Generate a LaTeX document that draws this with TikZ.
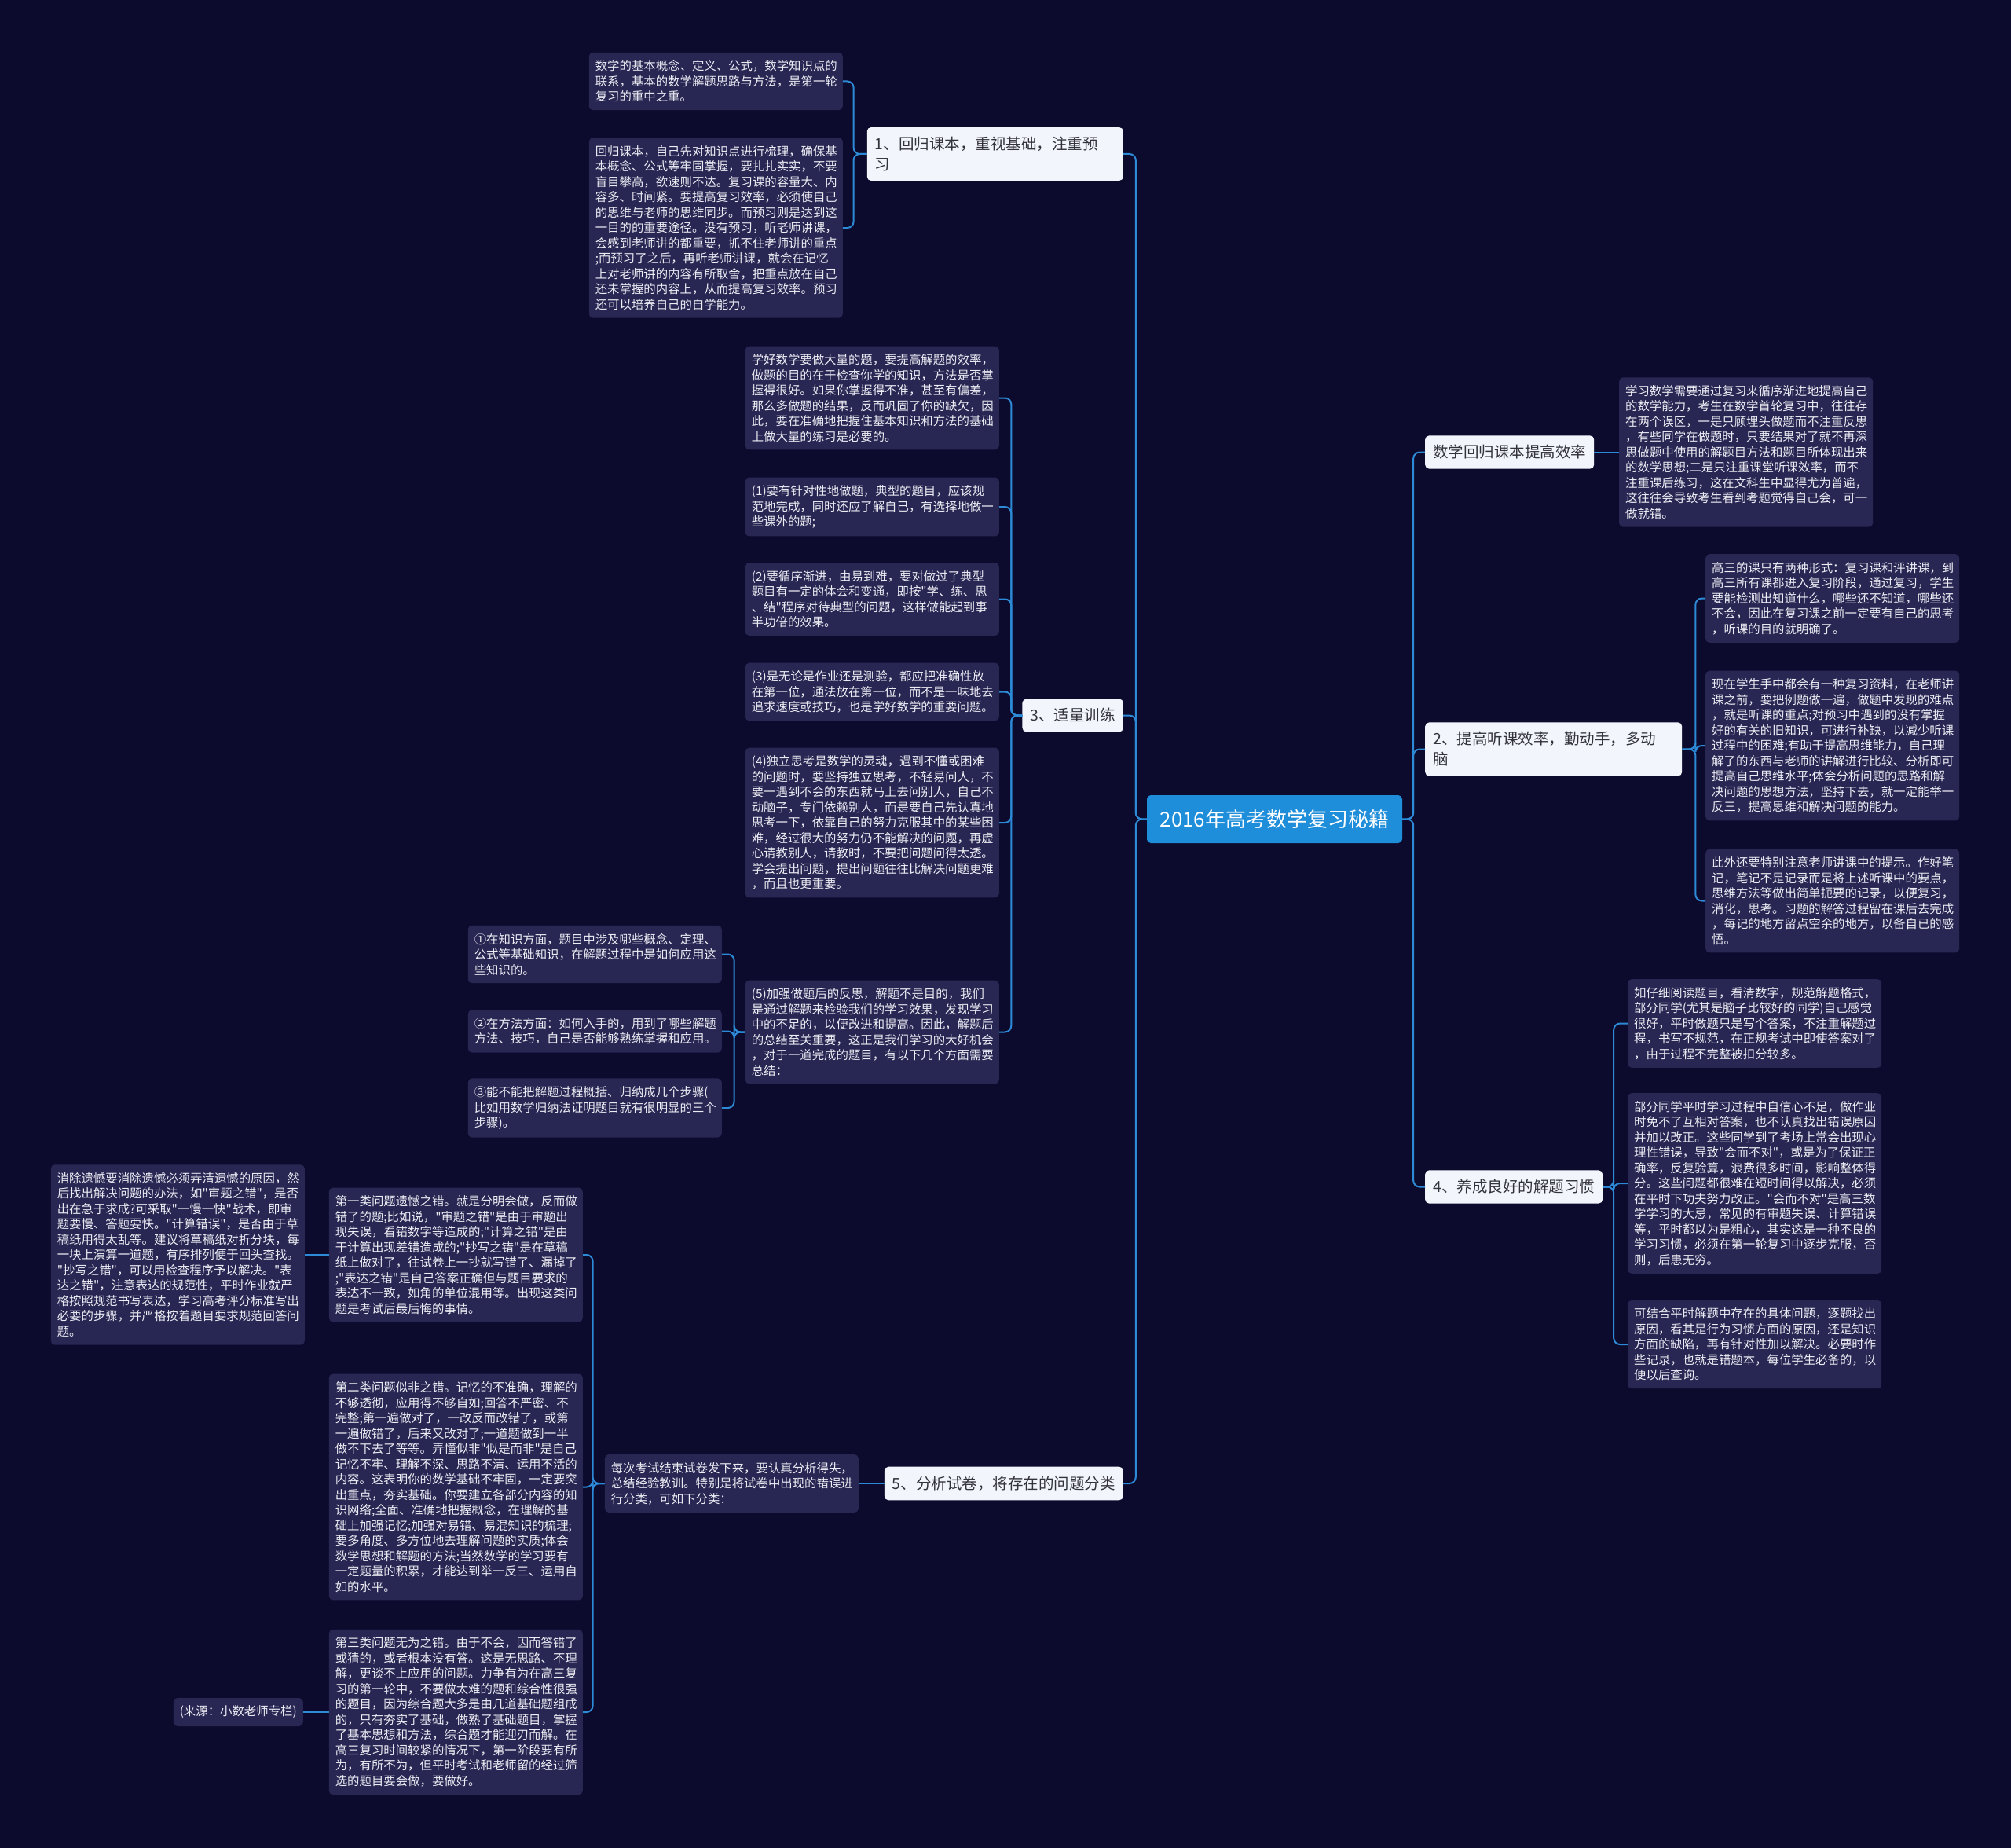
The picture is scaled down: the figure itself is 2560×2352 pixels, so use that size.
\documentclass[tikz,border=0pt]{standalone}
\usepackage{fontspec}
\setmainfont{Noto Sans CJK SC}[Ligatures=TeXOff]
\usepackage{tikz}
\usetikzlibrary{positioning}
\definecolor{bgNavy}{RGB}{13, 11, 45}
\definecolor{cardFill}{RGB}{40, 38, 82}
\definecolor{cardText}{RGB}{236, 236, 244}
\definecolor{topicFill}{RGB}{243, 245, 252}
\definecolor{topicText}{RGB}{51, 51, 60}
\definecolor{rootFill}{RGB}{30, 141, 218}
\definecolor{linkBlue}{RGB}{44, 138, 214}

\begin{document}
\begin{tikzpicture}[
    x=1pt, y=-1pt,
    card/.style={rectangle, rounded corners=5pt, fill=cardFill, text=cardText, align=left,
        font=\fontsize{15.4}{19.5}\selectfont, inner xsep=8pt, inner ysep=10pt},
    leaf/.style={card, text width=307pt},
    topic/.style={rectangle, rounded corners=5pt, fill=topicFill, text=topicText, align=left,
        font=\fontsize{19.5}{26}\selectfont, inner xsep=10pt, inner ysep=12pt},
    rootbox/.style={rectangle, rounded corners=5pt, fill=rootFill, text=white,
        font=\fontsize{26}{30}\selectfont, minimum width=325pt, minimum height=61pt},
    link/.style={draw=linkBlue, line width=2pt, rounded corners=8pt}
]
\fill[bgNavy] (0,0) rectangle (2560,2352);

% centre and main topics
\node[rootbox] (title) at (1622.5,1042.5) {2016年高考数学复习秘籍};
\node[topic, anchor=east, text width=306pt] (basics) at (1430,196) {1、回归课本，重视基础，注重预\\习};
\node[topic, anchor=east] (drill) at (1430,910.5) {3、适量训练};
\node[topic, anchor=east] (sortpaper) at (1430,1888) {5、分析试卷，将存在的问题分类};
\node[topic, anchor=west] (bookeff) at (1814,575.5) {数学回归课本提高效率};
\node[topic, anchor=west, text width=307pt] (listen) at (1814,953.5) {2、提高听课效率，勤动手，多动\\脑};
\node[topic, anchor=west] (habit) at (1814,1510.5) {4、养成良好的解题习惯};

% 1
\node[leaf, anchor=east] (basicsA) at (1073,103.5) {数学的基本概念、定义、公式，数学知识点的\\
联系，基本的数学解题思路与方法，是第一轮\\
复习的重中之重。};
\node[leaf, anchor=east] (basicsB) at (1073,290) {回归课本，自己先对知识点进行梳理，确保基\\
本概念、公式等牢固掌握，要扎扎实实，不要\\
盲目攀高，欲速则不达。复习课的容量大、内\\
容多、时间紧。要提高复习效率，必须使自己\\
的思维与老师的思维同步。而预习则是达到这\\
一目的的重要途径。没有预习，听老师讲课，\\
会感到老师讲的都重要，抓不住老师讲的重点\\
;而预习了之后，再听老师讲课，就会在记忆\\
上对老师讲的内容有所取舍，把重点放在自己\\
还未掌握的内容上，从而提高复习效率。预习\\
还可以培养自己的自学能力。};

% 3
\node[leaf, anchor=east] (drillA) at (1272,506.5) {学好数学要做大量的题，要提高解题的效率，\\
做题的目的在于检查你学的知识，方法是否掌\\
握得很好。如果你掌握得不准，甚至有偏差，\\
那么多做题的结果，反而巩固了你的缺欠，因\\
此，要在准确地把握住基本知识和方法的基础\\
上做大量的练习是必要的。};
\node[leaf, anchor=east] (drillB) at (1272,645) {(1)要有针对性地做题，典型的题目，应该规\\
范地完成，同时还应了解自己，有选择地做一\\
些课外的题;};
\node[leaf, anchor=east] (drillC) at (1272,762.5) {(2)要循序渐进，由易到难，要对做过了典型\\
题目有一定的体会和变通，即按"学、练、思\\
、结"程序对待典型的问题，这样做能起到事\\
半功倍的效果。};
\node[leaf, anchor=east] (drillD) at (1272,880.5) {(3)是无论是作业还是测验，都应把准确性放\\
在第一位，通法放在第一位，而不是一味地去\\
追求速度或技巧，也是学好数学的重要问题。};
\node[leaf, anchor=east] (drillE) at (1272,1047) {(4)独立思考是数学的灵魂，遇到不懂或困难\\
的问题时，要坚持独立思考，不轻易问人，不\\
要一遇到不会的东西就马上去问别人，自己不\\
动脑子，专门依赖别人，而是要自己先认真地\\
思考一下，依靠自己的努力克服其中的某些困\\
难，经过很大的努力仍不能解决的问题，再虚\\
心请教别人，请教时，不要把问题问得太透。\\
学会提出问题，提出问题往往比解决问题更难\\
，而且也更重要。};
\node[leaf, anchor=east] (drillF) at (1272,1313.5) {(5)加强做题后的反思，解题不是目的，我们\\
是通过解题来检验我们的学习效果，发现学习\\
中的不足的，以便改进和提高。因此，解题后\\
的总结至关重要，这正是我们学习的大好机会\\
，对于一道完成的题目，有以下几个方面需要\\
总结：};
\node[leaf, anchor=east] (sumA) at (919,1214.5) {①在知识方面，题目中涉及哪些概念、定理、\\
公式等基础知识，在解题过程中是如何应用这\\
些知识的。};
\node[leaf, anchor=east] (sumB) at (919,1312.5) {②在方法方面：如何入手的，用到了哪些解题\\
方法、技巧，自己是否能够熟练掌握和应用。};
\node[leaf, anchor=east] (sumC) at (919,1410) {③能不能把解题过程概括、归纳成几个步骤(\\
比如用数学归纳法证明题目就有很明显的三个\\
步骤)。};

% 5
\node[leaf, anchor=east] (sortA) at (1093,1888) {每次考试结束试卷发下来，要认真分析得失，\\
总结经验教训。特别是将试卷中出现的错误进\\
行分类，可如下分类：};
\node[leaf, anchor=east] (errA) at (742,1597) {第一类问题遗憾之错。就是分明会做，反而做\\
错了的题;比如说，"审题之错"是由于审题出\\
现失误，看错数字等造成的;"计算之错"是由\\
于计算出现差错造成的;"抄写之错"是在草稿\\
纸上做对了，往试卷上一抄就写错了、漏掉了\\
;"表达之错"是自己答案正确但与题目要求的\\
表达不一致，如角的单位混用等。出现这类问\\
题是考试后最后悔的事情。};
\node[leaf, anchor=east] (errB) at (742,1892.5) {第二类问题似非之错。记忆的不准确，理解的\\
不够透彻，应用得不够自如;回答不严密、不\\
完整;第一遍做对了，一改反而改错了，或第\\
一遍做错了，后来又改对了;一道题做到一半\\
做不下去了等等。弄懂似非"似是而非"是自己\\
记忆不牢、理解不深、思路不清、运用不活的\\
内容。这表明你的数学基础不牢固，一定要突\\
出重点，夯实基础。你要建立各部分内容的知\\
识网络;全面、准确地把握概念，在理解的基\\
础上加强记忆;加强对易错、易混知识的梳理;\\
要多角度、多方位地去理解问题的实质;体会\\
数学思想和解题的方法;当然数学的学习要有\\
一定题量的积累，才能达到举一反三、运用自\\
如的水平。};
\node[leaf, anchor=east] (errC) at (742,2179) {第三类问题无为之错。由于不会，因而答错了\\
或猜的，或者根本没有答。这是无思路、不理\\
解，更谈不上应用的问题。力争有为在高三复\\
习的第一轮中，不要做太难的题和综合性很强\\
的题目，因为综合题大多是由几道基础题组成\\
的，只有夯实了基础，做熟了基础题目，掌握\\
了基本思想和方法，综合题才能迎刃而解。在\\
高三复习时间较紧的情况下，第一阶段要有所\\
为，有所不为，但平时考试和老师留的经过筛\\
选的题目要会做，要做好。};
\node[leaf, anchor=east] (errAfix) at (388,1597) {消除遗憾要消除遗憾必须弄清遗憾的原因，然\\
后找出解决问题的办法，如"审题之错"，是否\\
出在急于求成?可采取"一慢一快"战术，即审\\
题要慢、答题要快。"计算错误"，是否由于草\\
稿纸用得太乱等。建议将草稿纸对折分块，每\\
一块上演算一道题，有序排列便于回头查找。\\
"抄写之错"，可以用检查程序予以解决。"表\\
达之错"，注意表达的规范性，平时作业就严\\
格按照规范书写表达，学习高考评分标准写出\\
必要的步骤，并严格按着题目要求规范回答问\\
题。};
\node[card, anchor=east] (errCsrc) at (386,2179) {(来源：小数老师专栏)};

% right side
\node[leaf, anchor=west] (bookA) at (2061,575.5) {学习数学需要通过复习来循序渐进地提高自己\\
的数学能力，考生在数学首轮复习中，往往存\\
在两个误区，一是只顾埋头做题而不注重反思\\
，有些同学在做题时，只要结果对了就不再深\\
思做题中使用的解题目方法和题目所体现出来\\
的数学思想;二是只注重课堂听课效率，而不\\
注重课后练习，这在文科生中显得尤为普遍，\\
这往往会导致考生看到考题觉得自己会，可一\\
做就错。};
\node[leaf, anchor=west] (listenA) at (2171,761.5) {高三的课只有两种形式：复习课和评讲课，到\\
高三所有课都进入复习阶段，通过复习，学生\\
要能检测出知道什么，哪些还不知道，哪些还\\
不会，因此在复习课之前一定要有自己的思考\\
，听课的目的就明确了。};
\node[leaf, anchor=west] (listenB) at (2171,949) {现在学生手中都会有一种复习资料，在老师讲\\
课之前，要把例题做一遍，做题中发现的难点\\
，就是听课的重点;对预习中遇到的没有掌握\\
好的有关的旧知识，可进行补缺，以减少听课\\
过程中的困难;有助于提高思维能力，自己理\\
解了的东西与老师的讲解进行比较、分析即可\\
提高自己思维水平;体会分析问题的思路和解\\
决问题的思想方法，坚持下去，就一定能举一\\
反三，提高思维和解决问题的能力。};
\node[leaf, anchor=west] (listenC) at (2171,1146.5) {此外还要特别注意老师讲课中的提示。作好笔\\
记，笔记不是记录而是将上述听课中的要点，\\
思维方法等做出简单扼要的记录，以便复习，\\
消化，思考。习题的解答过程留在课后去完成\\
，每记的地方留点空余的地方，以备自已的感\\
悟。};
\node[leaf, anchor=west] (habitA) at (2072,1302.5) {如仔细阅读题目，看清数字，规范解题格式，\\
部分同学(尤其是脑子比较好的同学)自己感觉\\
很好，平时做题只是写个答案，不注重解题过\\
程，书写不规范，在正规考试中即使答案对了\\
，由于过程不完整被扣分较多。};
\node[leaf, anchor=west] (habitB) at (2072,1506) {部分同学平时学习过程中自信心不足，做作业\\
时免不了互相对答案，也不认真找出错误原因\\
并加以改正。这些同学到了考场上常会出现心\\
理性错误，导致"会而不对"，或是为了保证正\\
确率，反复验算，浪费很多时间，影响整体得\\
分。这些问题都很难在短时间得以解决，必须\\
在平时下功夫努力改正。"会而不对"是高三数\\
学学习的大忌，常见的有审题失误、计算错误\\
等，平时都以为是粗心，其实这是一种不良的\\
学习习惯，必须在第一轮复习中逐步克服，否\\
则，后患无穷。};
\node[leaf, anchor=west] (habitC) at (2072,1711) {可结合平时解题中存在的具体问题，逐题找出\\
原因，看其是行为习惯方面的原因，还是知识\\
方面的缺陷，再有针对性加以解决。必要时作\\
些记录，也就是错题本，每位学生必备的，以\\
便以后查询。};

% connectors
\foreach \t in {basics, drill, sortpaper}
    \draw[link] (title.west) -- ++(-14,0) |- (\t.east);
\foreach \t in {bookeff, listen, habit}
    \draw[link] (title.east) -- ++(14,0) |- (\t.west);
\foreach \c in {basicsA, basicsB}
    \draw[link] (basics.west) -- ++(-17,0) |- (\c.east);
\foreach \c in {drillA, drillB, drillC, drillD, drillE, drillF}
    \draw[link] (drill.west) -- ++(-14,0) |- (\c.east);
\foreach \c in {sumA, sumB, sumC}
    \draw[link] (drillF.west) -- ++(-14,0) |- (\c.east);
\draw[link] (sortpaper.west) -- (sortA.east);
\foreach \c in {errA, errB, errC}
    \draw[link] (sortA.west) -- ++(-15,0) |- (\c.east);
\draw[link] (errA.west) -- (errAfix.east);
\draw[link] (errC.west) -- (errCsrc.east);
\draw[link] (bookeff.east) -- (bookA.west);
\foreach \c in {listenA, listenB, listenC}
    \draw[link] (listen.east) -- ++(17,0) |- (\c.west);
\foreach \c in {habitA, habitB, habitC}
    \draw[link] (habit.east) -- ++(14,0) |- (\c.west);
\end{tikzpicture}
\end{document}
